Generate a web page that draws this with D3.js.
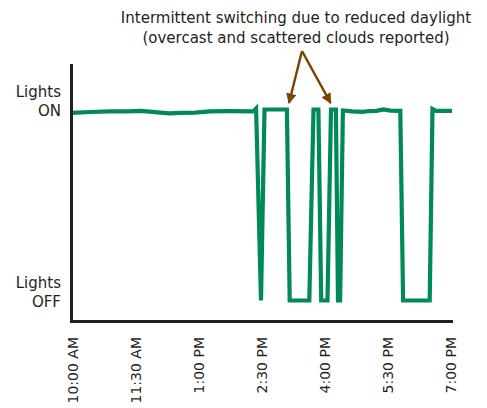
<!DOCTYPE html>
<html>
<head>
<meta charset="utf-8">
<script src="https://cdn.jsdelivr.net/npm/d3@7"></script>
<style>
  html, body { margin: 0; padding: 0; background: #fff; }
  svg { display: block; }
  text { font-family: "DejaVu Sans", Verdana, sans-serif; fill: #231f20; }
</style>
</head>
<body>
<svg id="chart" width="487" height="408"></svg>
<script>
// ---- data ----
const times = ["10:00","10:26","10:54","11:19","11:37","11:51","12:06","12:20","12:34","12:56","13:17","13:46","14:19","14:23","14:30","14:35","15:07","15:11","15:39","15:45","15:52","15:56","16:05","16:10","16:17","16:20","16:23","16:27","16:40","16:55","17:05","17:15","17:25","17:35","17:49","17:53","18:31","18:35","18:40","19:03"];
const levels = [98.2,98.7,99,99,99.3,98.9,98.4,98,98.2,98.4,99,99.1,99,100.5,0,100,100,0,0,100,100,0,0,100,100,0,0,99.5,99,98.8,99.2,99.3,100,99.4,99.3,0,0,100.3,99.3,99.3];
const tickTimes = ["10:00","11:30","13:00","14:30","16:00","17:30","19:00"];
const stateLabels = [["Lights","ON"],["Lights","OFF"]];
const stateValues = [100, 0];
const annotationLines = ["Intermittent switching due to reduced daylight","(overcast and scattered clouds reported)"];
const arrowTargets = ["15:10","16:08"];

// ---- setup ----
const parse = d3.timeParse("%H:%M");
const svg = d3.select("#chart");
const x = d3.scaleTime().domain([parse("10:00"), parse("19:00")]).range([72, 450]);
const y = d3.scaleLinear().domain([0, 100]).range([300.5, 109.5]);
const data = times.map((t, i) => ({ t: parse(t), v: levels[i] }));

// line
svg.append("path")
  .datum(data)
  .attr("fill", "none")
  .attr("stroke", "#008a57")
  .attr("stroke-width", 4.2)
  .attr("stroke-linejoin", "miter")
  .attr("stroke-miterlimit", 10)
  .attr("d", d3.line().x(d => x(d.t)).y(d => y(d.v)));

// axes lines
const axisColor = "#231f20";
svg.append("line").attr("x1", 71.5).attr("x2", 71.5).attr("y1", 64).attr("y2", 323)
  .attr("stroke", axisColor).attr("stroke-width", 3);
svg.append("line").attr("x1", 70).attr("x2", 453).attr("y1", 321.5).attr("y2", 321.5)
  .attr("stroke", axisColor).attr("stroke-width", 3);

// x axis tick labels
const xAxis = d3.axisBottom(x)
  .tickValues(tickTimes.map(parse))
  .tickFormat(d3.timeFormat("%-I:%M %p"))
  .tickSize(0);
const gx = svg.append("g").attr("transform", "translate(0,321)").call(xAxis);
gx.select(".domain").remove();
gx.selectAll("text")
  .attr("font-size", 14)
  .attr("font-family", "DejaVu Sans, Verdana, sans-serif")
  .attr("fill", axisColor)
  .attr("transform", "rotate(-90)")
  .attr("text-anchor", "end")
  .attr("x", -16)
  .attr("y", 0)
  .attr("dy", "0.36em");

// y state labels
const gy = svg.append("g");
stateValues.forEach((v, i) => {
  const t = gy.append("text")
    .attr("text-anchor", "end")
    .attr("font-size", 15)
    .attr("x", 61)
    .attr("y", y(v) - 13);
  t.append("tspan").attr("x", 61).attr("dy", 0).text(stateLabels[i][0]);
  t.append("tspan").attr("x", 61).attr("dy", 19).text(stateLabels[i][1]);
});

// annotation
const ann = svg.append("text").attr("text-anchor", "middle").attr("font-size", 15);
annotationLines.forEach((l, i) => {
  ann.append("tspan").attr("x", 296).attr("y", 23 + i * 19.5).text(l);
});

// arrows
const brown = "#7a4500";
const defs = svg.append("defs");
defs.append("marker")
  .attr("id", "ah")
  .attr("viewBox", "0 0 10 10")
  .attr("refX", 9).attr("refY", 5)
  .attr("markerWidth", 4.2).attr("markerHeight", 4.2)
  .attr("markerUnits", "strokeWidth")
  .attr("orient", "auto")
  .append("path").attr("d", "M0,0 L10,5 L0,10 Z").attr("fill", brown);
const apex = [302, 51];
arrowTargets.forEach(t => {
  svg.append("line")
    .attr("x1", apex[0]).attr("y1", apex[1])
    .attr("x2", x(parse(t)) - (t === arrowTargets[0] ? 0 : -1)).attr("y2", 103)
    .attr("stroke", brown).attr("stroke-width", 2.5)
    .attr("marker-end", "url(#ah)");
});
</script>
</body>
</html>
